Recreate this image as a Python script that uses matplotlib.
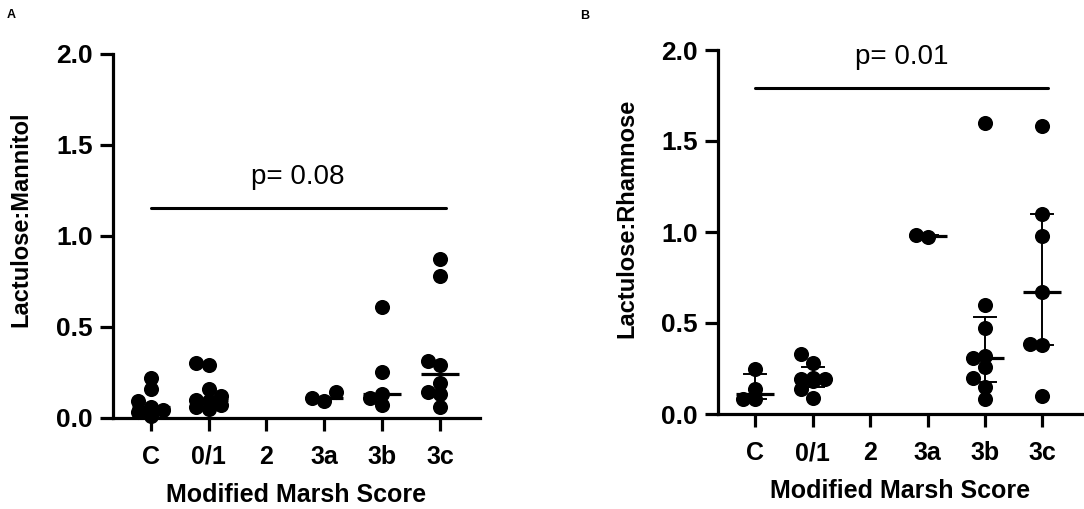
import numpy as np
import matplotlib
matplotlib.use('Agg')
from matplotlib import pyplot as plt

plt.rcParams['font.family'] = ['Liberation Sans', 'DejaVu Sans']

# data
groups = ['C', '0/1', '2', '3a', '3b', '3c']

lm_C = [0.22, 0.16, 0.09, 0.06, 0.045, 0.03, 0.01]
lm_01 = [0.30, 0.29, 0.16, 0.12, 0.10, 0.09, 0.07, 0.06, 0.05]
lm_2 = []
lm_3a = [0.14, 0.107, 0.093]
lm_3b = [0.61, 0.25, 0.13, 0.107, 0.07]
lm_3c = [0.87, 0.78, 0.31, 0.29, 0.19, 0.14, 0.13, 0.06]

lr_C = [0.25, 0.14, 0.085, 0.08]
lr_01 = [0.33, 0.28, 0.20, 0.195, 0.19, 0.18, 0.14, 0.09]
lr_2 = []
lr_3a = [0.985, 0.97]
lr_3b = [1.60, 0.60, 0.47, 0.32, 0.305, 0.26, 0.20, 0.15, 0.08]
lr_3c = [1.58, 1.10, 0.98, 0.67, 0.383, 0.378, 0.10]

lm_data = [lm_C, lm_01, lm_2, lm_3a, lm_3b, lm_3c]
lr_data = [lr_C, lr_01, lr_2, lr_3a, lr_3b, lr_3c]

p_A = 'p= 0.08'
p_B = 'p= 0.01'
bar_A = 1.15
bar_B = 1.79


def swarm(vals, ux, uy, step=0.21, diam=10.0):
    # beeswarm kept to three columns, like the original scatter
    placed = []
    out = np.zeros(len(vals))
    order = np.argsort(vals)
    for i in order:
        v = vals[i]
        best, best_d = 0.0, -1.0
        for k in [0, -1, 1]:
            x = k * step
            d = min([np.hypot((x - px) * ux, (v - pv) * uy)
                     for (px, pv) in placed] + [1e9])
            if d >= diam:
                best = x
                break
            if d > best_d:
                best, best_d = x, d
        placed.append((best, v))
        out[i] = best
    return out


def panel(ax, data, ylabel, ptext, ybar, ylab_y, iqr=False):
    ux = ax.bbox.width / 6.34
    uy = ax.bbox.height / 2.0
    for i, vals in enumerate(data):
        if len(vals) == 0:
            continue
        vals = np.array(vals)
        xs = i + swarm(vals, ux, uy)
        ax.scatter(xs, vals, s=118, color='black', zorder=3, clip_on=False,
                   linewidths=0)
        med = np.median(vals)
        ax.plot([i - 0.33, i + 0.33], [med, med], color='black', lw=2.3,
                zorder=4, solid_capstyle='butt')
        if iqr:
            q1, q3 = np.percentile(vals, [25, 75], method='weibull')
            ax.plot([i, i], [q1, q3], color='black', lw=1.4, zorder=4)
            for q in (q1, q3):
                ax.plot([i - 0.19, i + 0.19], [q, q], color='black', lw=1.4,
                        zorder=4)
    ax.plot([0, 5.1], [ybar, ybar], color='black', lw=2.2,
            solid_capstyle='round')
    ax.text(2.55, ybar + 0.1, ptext, ha='center', va='bottom', fontsize=20)

    ax.set_xlim(-0.65, 5.69)
    ax.set_ylim(0, 2.0)
    ax.set_xticks(range(6))
    ax.set_xticklabels(groups)
    ax.set_yticks([0, 0.5, 1.0, 1.5, 2.0])
    ax.set_yticklabels(['0.0', '0.5', '1.0', '1.5', '2.0'])
    for s in ['top', 'right']:
        ax.spines[s].set_visible(False)
    for s in ['left', 'bottom']:
        ax.spines[s].set_linewidth(2.3)
    ax.tick_params(width=2.3, length=9.5)
    ax.tick_params(axis='x', labelsize=18, pad=10)
    ax.tick_params(axis='y', labelsize=19, pad=5)
    for lab in ax.get_xticklabels() + ax.get_yticklabels():
        lab.set_fontweight('bold')
    ax.set_xlabel('Modified Marsh Score', fontsize=18, fontweight='bold',
                  labelpad=10)
    ax.set_ylabel(ylabel, fontsize=17, fontweight='bold')
    ax.yaxis.set_label_coords(-0.22, ylab_y)


fig = plt.figure(figsize=(10.84, 5.09), dpi=100)
axA = fig.add_axes([113 / 1084, 1 - 417.7 / 509, 367 / 1084, 364 / 509])
axB = fig.add_axes([718 / 1084, 1 - 414 / 509, 364 / 1084, 364 / 509])

panel(axA, lm_data, 'Lactulose:Mannitol', p_A, bar_A, 0.546)
panel(axB, lr_data, 'Lactulose:Rhamnose', p_B, bar_B, 0.538, iqr=True)

fig.text(7 / 1084, 1 - 18 / 509, 'A', fontsize=9, fontweight='bold')
fig.text(580 / 1084, 1 - 19 / 509, 'B', fontsize=9, fontweight='bold')

fig.savefig('out.png', dpi=100)
